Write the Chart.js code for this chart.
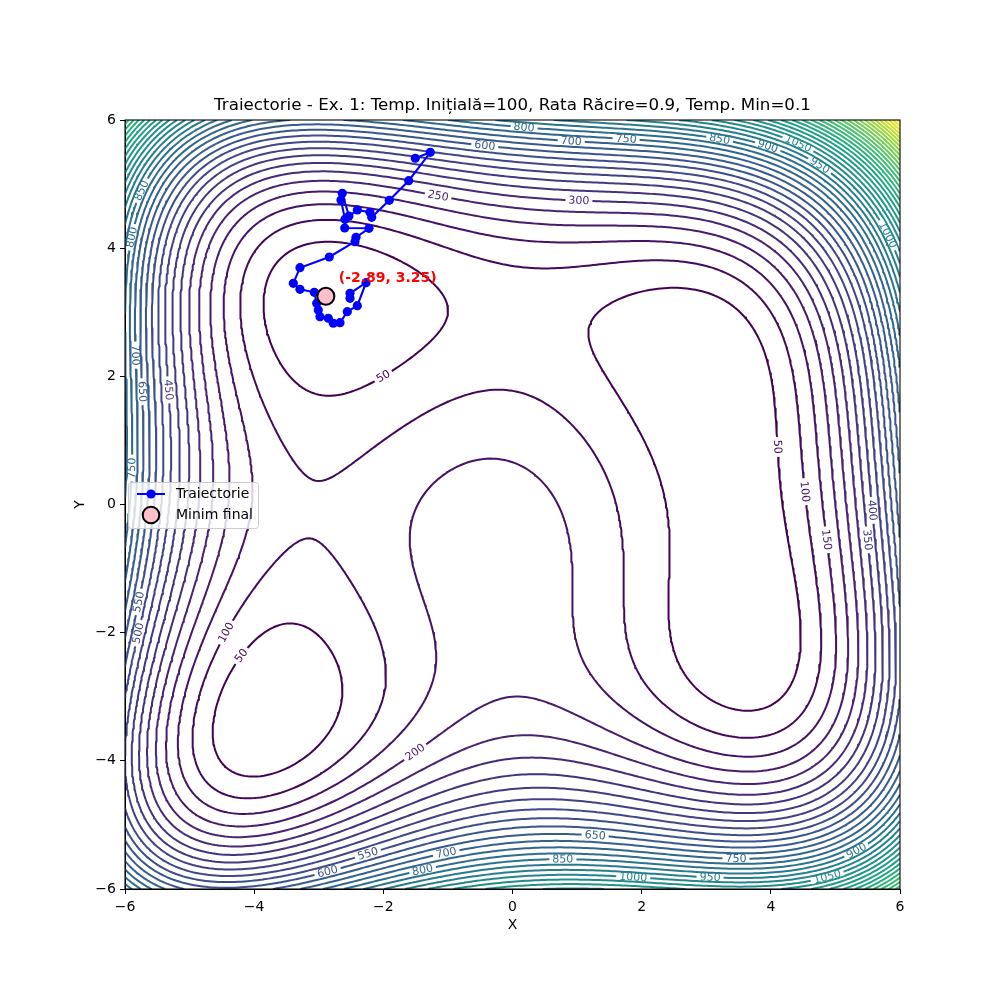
<!DOCTYPE html>
<html lang="ro">
<head>
<meta charset="UTF-8" />
<title>Traiectorie - Ex. 1</title>
<style>
  body { margin: 0; background: #fff; }
  #wrap { width: 1000px; height: 1000px; }
</style>
</head>
<body>
<div id="wrap"><canvas id="chart" width="1000" height="1000"></canvas></div>
<script src="https://cdn.jsdelivr.net/npm/chart.js"></script>
<script>
  // contour levels of the surface
  const levels = [50, 100, 150, 200, 250, 300, 350, 400, 450, 500, 550, 600, 650, 700, 750, 800,
    850, 900, 950, 1000, 1050, 1100, 1150, 1200, 1250, 1300, 1350, 1400, 1450, 1500, 1550, 1600,
    1650, 1700, 1750, 1800, 1850, 1900, 1950, 2000, 2050, 2100, 2150];

  // trajectory of the annealing run
  const trajX = [-1.505, -1.273, -1.607, -1.908, -2.180, -2.207, -2.403, -2.532, -2.636, -2.656, -2.594,
    -2.598, -2.222, -2.423, -2.439, -2.837, -3.291, -3.394, -3.291, -3.069, -3.032, -3.007, -2.981,
    -2.852, -2.775, -2.671, -2.558, -2.403, -2.268, -2.516, -2.516];
  const trajY = [5.403, 5.496, 5.053, 4.747, 4.482, 4.560, 4.596, 4.502, 4.856, 4.752, 4.451,
    4.315, 4.310, 4.170, 4.101, 3.862, 3.695, 3.452, 3.358, 3.311, 3.140, 3.035, 2.931,
    2.906, 2.828, 2.837, 3.009, 3.102, 3.461, 3.296, 3.218];
  const bestX = -2.89;
  const bestY = 3.25;

  // inline contour labels (level, approximate spot)
  const labelLevels = [800, 700, 600, 750, 850, 900, 950, 1050, 1000, 250, 300, 50, 50, 100, 150, 400, 350,
    100, 50, 200, 650, 550, 700, 600, 800, 850, 750, 900, 1000, 950, 1050,
    800, 850, 700, 650, 450, 750, 550, 500];
  const labelX = [0.18, 0.91, -0.43, 1.76, 3.21, 3.96, 4.79, 4.45, 5.82, -1.15, 1.03, -2.0, 4.11, 4.53, 4.86, 5.58, 5.51,
    -4.43, -4.20, -1.51, 1.28, -2.24, -1.03, -2.86, -1.39, 0.78, 3.46, 5.33, 1.87, 3.06, 4.88,
    -5.89, -5.77, -5.83, -5.72, -5.30, -5.92, -5.79, -5.83];
  const labelY = [5.89, 5.67, 5.59, 5.72, 5.72, 5.61, 5.34, 5.69, 4.21, 4.83, 4.77, 2.0, 0.90, 0.20, -0.55, -0.09, -0.55,
    -2.0, -2.36, -3.86, -5.16, -5.45, -5.42, -5.74, -5.71, -5.54, -5.52, -5.41, -5.81, -5.81, -5.83,
    4.17, 4.91, 2.33, 1.76, 1.79, 0.57, -1.52, -2.0];

  const viridisStops = ['#440154', '#482475', '#414487', '#355f8d', '#2a788e', '#21918c',
    '#22a884', '#44bf70', '#7ad151', '#bddf26', '#fde725'];

  const titleText = 'Traiectorie - Ex. 1: Temp. Inițială=100, Rata Răcire=0.9, Temp. Min=0.1';

  function himmelblau(x, y) {
    return (x * x + y - 11) ** 2 + (x + y * y - 7) ** 2;
  }
  function grad(x, y) {
    const a = x * x + y - 11, b = x + y * y - 7;
    return [4 * a * x + 2 * b, 2 * a + 4 * b * y];
  }

  function viridis(t) {
    t = Math.max(0, Math.min(1, t));
    const p = t * (viridisStops.length - 1);
    const i = Math.min(Math.floor(p), viridisStops.length - 2);
    const f = p - i;
    const c0 = parseInt(viridisStops[i].slice(1), 16), c1 = parseInt(viridisStops[i + 1].slice(1), 16);
    const ch = s => Math.round(((c0 >> s) & 255) * (1 - f) + ((c1 >> s) & 255) * f);
    return `rgb(${ch(16)},${ch(8)},${ch(0)})`;
  }
  const levelColor = lv => viridis((lv - levels[0]) / (levels[levels.length - 1] - levels[0]));

  // grid + marching squares
  const N = 241;
  const gx = [];
  for (let i = 0; i < N; i++) gx.push(-6 + 12 * i / (N - 1));
  const Z = new Float64Array(N * N);
  for (let j = 0; j < N; j++) for (let i = 0; i < N; i++) Z[j * N + i] = himmelblau(gx[i], gx[j]);

  function contour(level) {
    const H = (i, j) => (j * N + i) * 2;
    const V = (i, j) => (j * N + i) * 2 + 1;
    const segs = [];
    for (let j = 0; j < N - 1; j++) {
      for (let i = 0; i < N - 1; i++) {
        const a = Z[j * N + i], b = Z[j * N + i + 1], c = Z[(j + 1) * N + i + 1], d = Z[(j + 1) * N + i];
        const cr = [];
        if ((a < level) !== (b < level)) cr.push(H(i, j));
        if ((b < level) !== (c < level)) cr.push(V(i + 1, j));
        if ((c < level) !== (d < level)) cr.push(H(i, j + 1));
        if ((d < level) !== (a < level)) cr.push(V(i, j));
        if (cr.length === 2) segs.push(cr);
        else if (cr.length === 4) {
          const m = (a + b + c + d) / 4;
          if ((m < level) === (a < level)) { segs.push([cr[0], cr[1]]); segs.push([cr[2], cr[3]]); }
          else { segs.push([cr[0], cr[3]]); segs.push([cr[1], cr[2]]); }
        }
      }
    }
    function pt(id) {
      const k = id >> 1, i = k % N, j = (k - i) / N;
      const i2 = (id & 1) ? i : i + 1, j2 = (id & 1) ? j + 1 : j;
      const v1 = Z[j * N + i], v2 = Z[j2 * N + i2];
      const t = (level - v1) / (v2 - v1);
      return { x: gx[i] + (gx[i2] - gx[i]) * t, y: gx[j] + (gx[j2] - gx[j]) * t };
    }
    const adj = new Map();
    segs.forEach((s, k) => s.forEach(e => {
      if (!adj.has(e)) adj.set(e, []);
      adj.get(e).push(k);
    }));
    const used = new Uint8Array(segs.length);
    const out = [];
    const walk = (start, edge) => {
      const chain = [];
      let e = edge;
      while (true) {
        const next = (adj.get(e) || []).find(k => !used[k]);
        if (next === undefined) break;
        used[next] = 1;
        e = segs[next][0] === e ? segs[next][1] : segs[next][0];
        chain.push(e);
      }
      return chain;
    };
    for (let k = 0; k < segs.length; k++) {
      if (used[k]) continue;
      used[k] = 1;
      const fwd = walk(k, segs[k][1]);
      const back = walk(k, segs[k][0]);
      const ids = back.reverse().concat([segs[k][0], segs[k][1]], fwd);
      ids.forEach(id => out.push(pt(id)));
      out.push({ x: null, y: null });
    }
    return out;
  }

  const contourSets = levels.map((lv, n) => ({
    label: 'c' + lv,
    data: contour(lv),
    showLine: true,
    borderColor: levelColor(lv),
    borderWidth: 2,
    pointRadius: 0,
    spanGaps: false,
    borderJoinStyle: 'round',
    order: 10 + n
  }));

  const fmt = v => (v < 0 ? '\u2212' + Math.abs(v) : String(v));

  const extras = {
    id: 'extras',
    afterDatasetsDraw(chart) {
      const { ctx, chartArea: a, scales: { x, y } } = chart;
      const sx = x.getPixelForValue(1) - x.getPixelForValue(0);
      const sy = y.getPixelForValue(0) - y.getPixelForValue(1);
      ctx.save();
      ctx.beginPath();
      ctx.rect(a.left, a.top, a.right - a.left, a.bottom - a.top);
      ctx.clip();
      ctx.font = '11px "DejaVu Sans"';
      ctx.textAlign = 'center';
      ctx.textBaseline = 'middle';
      labelLevels.forEach((lv, k) => {
        let px = labelX[k], py = labelY[k];
        for (let it = 0; it < 6; it++) {
          const g = grad(px, py), gg = g[0] * g[0] + g[1] * g[1];
          if (gg < 1e-9) break;
          const d = (himmelblau(px, py) - lv) / gg;
          px -= d * g[0]; py -= d * g[1];
        }
        const g = grad(px, py);
        const gpx = g[0] / sx, gpy = -g[1] / sy;
        let ang = Math.atan2(gpx, -gpy);
        if (ang > Math.PI / 2) ang -= Math.PI;
        if (ang < -Math.PI / 2) ang += Math.PI;
        const cx = x.getPixelForValue(px), cy = y.getPixelForValue(py);
        const w = ctx.measureText(String(lv)).width;
        ctx.save();
        ctx.translate(cx, cy);
        ctx.rotate(ang);
        ctx.fillStyle = '#ffffff';
        ctx.fillRect(-w / 2 - 3, -3, w + 6, 6);
        ctx.fillStyle = levelColor(lv);
        ctx.fillText(String(lv), 0, 0.5);
        ctx.restore();
      });
      ctx.restore();
    },
    afterDraw(chart) {
      const { ctx, chartArea: a, scales: { x, y } } = chart;
      ctx.save();
      // title
      ctx.fillStyle = '#000';
      ctx.font = '16.7px "DejaVu Sans"';
      ctx.textAlign = 'center';
      ctx.textBaseline = 'middle';
      ctx.fillText(titleText, (a.left + a.right) / 2, 106);
      // annotation of the best point
      ctx.font = 'bold 14px "DejaVu Sans"';
      ctx.fillStyle = '#ff0000';
      ctx.textAlign = 'left';
      ctx.textBaseline = 'bottom';
      ctx.fillText(`(${bestX.toFixed(2)}, ${bestY.toFixed(2)})`, x.getPixelForValue(bestX + 0.2), y.getPixelForValue(bestY + 0.2) + 2);
      // frame
      ctx.strokeStyle = '#000';
      ctx.lineWidth = 1.1;
      ctx.strokeRect(a.left, a.top, a.right - a.left, a.bottom - a.top);
      // axis titles
      ctx.fillStyle = '#000';
      ctx.font = '14px "DejaVu Sans"';
      ctx.textAlign = 'center';
      ctx.textBaseline = 'middle';
      ctx.fillText('X', (a.left + a.right) / 2, 925);
      ctx.save();
      ctx.translate(80, (a.top + a.bottom) / 2);
      ctx.rotate(-Math.PI / 2);
      ctx.fillText('Y', 0, 0);
      ctx.restore();
      // legend
      const lx = 128.5, ly = 482.5, lw = 130, lh = 46;
      ctx.beginPath();
      ctx.roundRect(lx, ly, lw, lh, 3);
      ctx.fillStyle = 'rgba(255,255,255,0.8)';
      ctx.fill();
      ctx.strokeStyle = '#cccccc';
      ctx.lineWidth = 1;
      ctx.stroke();
      ctx.strokeStyle = '#0000ff';
      ctx.lineWidth = 2;
      ctx.beginPath();
      ctx.moveTo(137, 494); ctx.lineTo(165, 494);
      ctx.stroke();
      ctx.fillStyle = '#0000ff';
      ctx.beginPath(); ctx.arc(151, 494, 4.6, 0, Math.PI * 2); ctx.fill();
      ctx.fillStyle = '#ffc0cb';
      ctx.strokeStyle = '#000';
      ctx.lineWidth = 2;
      ctx.beginPath(); ctx.arc(151, 515, 8.3, 0, Math.PI * 2); ctx.fill(); ctx.stroke();
      ctx.fillStyle = '#000';
      ctx.font = '14px "DejaVu Sans"';
      ctx.textAlign = 'left';
      ctx.fillText('Traiectorie', 176, 494);
      ctx.fillText('Minim final', 176, 515);
      ctx.restore();
    }
  };

  new Chart(document.getElementById('chart'), {
    type: 'scatter',
    data: {
      datasets: [
        {
          label: 'Minim final',
          data: [{ x: bestX, y: bestY }],
          pointRadius: 8.5,
          pointBackgroundColor: '#ffc0cb',
          pointBorderColor: '#000',
          pointBorderWidth: 2,
          order: 0
        },
        {
          label: 'Traiectorie',
          data: trajX.map((v, i) => ({ x: v, y: trajY[i] })),
          showLine: true,
          borderColor: '#0000ff',
          borderWidth: 2.1,
          pointRadius: 4.6,
          pointBackgroundColor: '#0000ff',
          pointBorderWidth: 0,
          order: 1
        },
        ...contourSets
      ]
    },
    options: {
      responsive: false,
      animation: false,
      devicePixelRatio: 1,
      events: [],
      layout: { padding: { left: 0, right: 100, top: 120, bottom: 0 } },
      plugins: {
        legend: { display: false },
        tooltip: { enabled: false },
        title: { display: false }
      },
      scales: {
        x: {
          type: 'linear', min: -6, max: 6,
          afterFit: s => { s.height = 111; },
          grid: { drawOnChartArea: false, drawTicks: true, tickLength: 5, color: '#000' },
          border: { display: true, color: '#000' },
          ticks: { stepSize: 2, color: '#000', padding: 5, font: { family: 'DejaVu Sans', size: 14 }, callback: fmt }
        },
        y: {
          type: 'linear', min: -6, max: 6,
          afterFit: s => { s.width = 125; },
          grid: { drawOnChartArea: false, drawTicks: true, tickLength: 5, color: '#000' },
          border: { display: true, color: '#000' },
          ticks: { stepSize: 2, color: '#000', padding: 4, font: { family: 'DejaVu Sans', size: 14 }, callback: fmt }
        }
      }
    },
    plugins: [extras]
  });
</script>
</body>
</html>
